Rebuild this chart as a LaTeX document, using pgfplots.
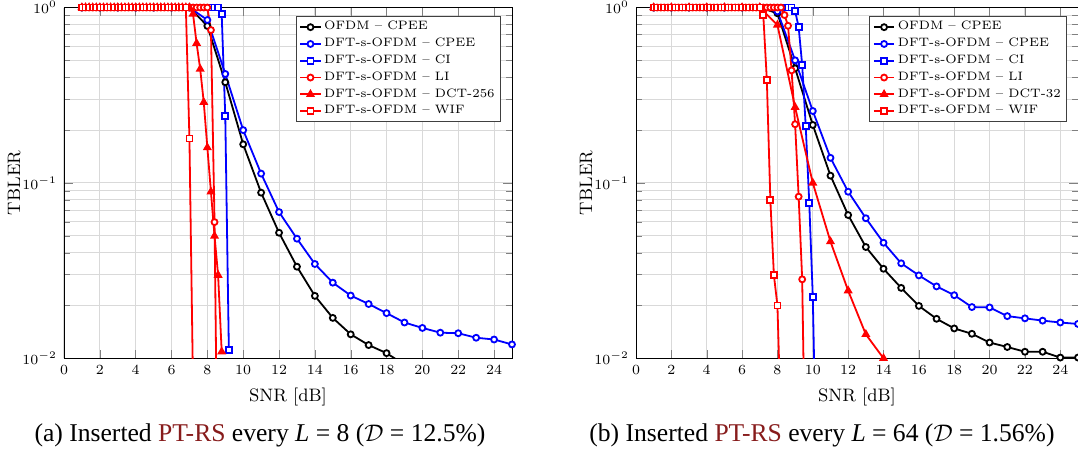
\documentclass[border=0pt]{standalone}
\usepackage{pgfplots}
\pgfplotsset{compat=1.18}
\usepackage{fontspec}
\newfontfamily\capfont{Liberation Serif}
\definecolor{linkred}{RGB}{135,28,28}

\pgfplotsset{
  sOC/.style={black, mark=*, mark options={fill=white}},
  sDC/.style={blue, mark=*, mark options={fill=white}},
  sCI/.style={blue, mark=square*, mark options={fill=white}},
  sLI/.style={red, mark=*, mark options={fill=white}},
  sDCT/.style={red, mark=triangle*, mark options={fill=red}, mark size=1.75pt},
  sWIF/.style={red, mark=square*, mark options={fill=white}},
  tailseg/.style={no marks, forget plot, line width=0.9pt},
}

\begin{document}
\begin{tikzpicture}
% ---------------- (a) L = 8 ----------------
\begin{axis}[
    at={(0pt,0pt)},
    scale only axis,
    width=224pt, height=175.4pt,
    ymode=log,
    xmin=0, xmax=25, ymin=1e-2, ymax=1,
    xtick={0,2,...,24},
    ytick={1e-2,1e-1,1},
    grid=both,
    major grid style={gray!30, line width=0.5pt},
    minor grid style={gray!30, line width=0.5pt},
    tick label style={font=\fontsize{6.7}{8}\selectfont},
    label style={font=\fontsize{9}{10}\selectfont},
    xlabel={SNR [dB]},
    ylabel={TBLER},
    ylabel shift=-6pt,
    legend style={font=\fontsize{6.1}{7}\selectfont, at={(0.975,0.975)}, anchor=north east,
      cells={anchor=west}, draw=black!75, line width=0.5pt,
      inner xsep=1.5pt, inner ysep=1pt, nodes={inner sep=1.3pt}},
    legend image code/.code={\draw[mark repeat=2,mark phase=2]
      plot coordinates {(0cm,0cm) (0.18cm,0cm) (0.36cm,0cm)};},
    every axis plot/.append style={line width=0.9pt, mark size=1.5pt},
]
\addplot[tailseg, black] coordinates {(18,0.0107) (19,0.0092)};
\addplot[tailseg, red] coordinates {(8.4,0.0598) (8.6,0.001)};
\addplot[tailseg, red] coordinates {(7.0,0.179) (7.2,0.007)};

\addplot[sOC] coordinates {
(1,1) (2,1) (3,1) (4,1) (5,1) (6,1) (7,1) (8,0.785) (9,0.375) (10,0.166)
(11,0.088) (12,0.052) (13,0.0333) (14,0.0227) (15,0.0170) (16,0.0137)
(17,0.0119) (18,0.0107)};
\addlegendentry{OFDM -- CPEE}
\addplot[sDC] coordinates {
(1,1) (2,1) (3,1) (4,1) (5,1) (6,1) (7,1) (8,0.849) (9,0.418) (10,0.200)
(11,0.113) (12,0.0682) (13,0.0481) (14,0.0345) (15,0.0270) (16,0.0228)
(17,0.0204) (18,0.0181) (19,0.0160) (20,0.0149) (21,0.0140) (22,0.0139)
(23,0.0131) (24,0.0128) (25,0.0120)};
\addlegendentry{DFT-s-OFDM -- CPEE}
\addplot[sCI] coordinates {
(1,1) (1.2,1) (1.4,1) (1.6,1) (1.8,1) (2,1) (2.2,1) (2.4,1) (2.6,1) (2.8,1)
(3,1) (3.2,1) (3.4,1) (3.6,1) (3.8,1) (4,1) (4.2,1) (4.4,1) (4.6,1) (4.8,1)
(5,1) (5.2,1) (5.4,1) (5.6,1) (5.8,1) (6,1) (6.2,1) (6.4,1) (6.6,1) (6.8,1)
(7,1) (7.2,1) (7.4,1) (7.6,1) (7.8,1) (8,1) (8.2,1) (8.4,1) (8.6,1)
(8.8,0.914) (9.0,0.240) (9.2,0.0111)};
\addlegendentry{DFT-s-OFDM -- CI}
\addplot[sLI] coordinates {
(1,1) (1.2,1) (1.4,1) (1.6,1) (1.8,1) (2,1) (2.2,1) (2.4,1) (2.6,1) (2.8,1)
(3,1) (3.2,1) (3.4,1) (3.6,1) (3.8,1) (4,1) (4.2,1) (4.4,1) (4.6,1) (4.8,1)
(5,1) (5.2,1) (5.4,1) (5.6,1) (5.8,1) (6,1) (6.2,1) (6.4,1) (6.6,1) (6.8,1)
(7,1) (7.2,1) (7.4,1) (7.6,1) (7.8,1) (8,1) (8.2,0.744) (8.4,0.0598)};
\addlegendentry{DFT-s-OFDM -- LI}
\addplot[sDCT] coordinates {
(1,1) (1.2,1) (1.4,1) (1.6,1) (1.8,1) (2,1) (2.2,1) (2.4,1) (2.6,1) (2.8,1)
(3,1) (3.2,1) (3.4,1) (3.6,1) (3.8,1) (4,1) (4.2,1) (4.4,1) (4.6,1) (4.8,1)
(5,1) (5.2,1) (5.4,1) (5.6,1) (5.8,1) (6,1) (6.2,1) (6.4,1) (6.6,1) (6.8,1)
(7,1) (7.2,0.918) (7.4,0.625) (7.6,0.446) (7.8,0.288) (8,0.159) (8.2,0.089)
(8.4,0.0498) (8.6,0.0298) (8.8,0.0109)};
\addlegendentry{DFT-s-OFDM -- DCT-256}
\addplot[sWIF] coordinates {
(1,1) (1.2,1) (1.4,1) (1.6,1) (1.8,1) (2,1) (2.2,1) (2.4,1) (2.6,1) (2.8,1)
(3,1) (3.2,1) (3.4,1) (3.6,1) (3.8,1) (4,1) (4.2,1) (4.4,1) (4.6,1) (4.8,1)
(5,1) (5.2,1) (5.4,1) (5.6,1) (5.8,1) (6,1) (6.2,1) (6.4,1) (6.6,1) (6.8,1)
(7,0.179)};
\addlegendentry{DFT-s-OFDM -- WIF}
\end{axis}

% ---------------- (b) L = 64 ----------------
\begin{axis}[
    at={(286pt,0pt)},
    scale only axis,
    width=221pt, height=175.4pt,
    ymode=log,
    xmin=0, xmax=25, ymin=1e-2, ymax=1,
    xtick={0,2,...,24},
    ytick={1e-2,1e-1,1},
    grid=both,
    major grid style={gray!30, line width=0.5pt},
    minor grid style={gray!30, line width=0.5pt},
    tick label style={font=\fontsize{6.7}{8}\selectfont},
    label style={font=\fontsize{9}{10}\selectfont},
    xlabel={SNR [dB]},
    ylabel={TBLER},
    ylabel shift=-6pt,
    legend style={font=\fontsize{6.1}{7}\selectfont, at={(0.975,0.975)}, anchor=north east,
      cells={anchor=west}, draw=black!75, line width=0.5pt,
      inner xsep=1.5pt, inner ysep=1pt, nodes={inner sep=1.3pt}},
    legend image code/.code={\draw[mark repeat=2,mark phase=2]
      plot coordinates {(0cm,0cm) (0.18cm,0cm) (0.36cm,0cm)};},
    every axis plot/.append style={line width=0.9pt, mark size=1.5pt},
]
\addplot[tailseg, blue] coordinates {(10.0,0.0224) (10.2,0.0022)};
\addplot[tailseg, red] coordinates {(9.4,0.0282) (9.6,0.0015)};
\addplot[tailseg, red] coordinates {(8.0,0.0200) (8.2,0.004)};

\addplot[sOC] coordinates {
(1,1) (2,1) (3,1) (4,1) (5,1) (6,1) (7,1) (8,0.927) (9,0.45) (10,0.214)
(11,0.110) (12,0.0656) (13,0.0431) (14,0.0324) (15,0.0252) (16,0.0199)
(17,0.0168) (18,0.0148) (19,0.0138) (20,0.0123) (21,0.0116) (22,0.0109)
(23,0.0109) (24,0.0101) (25,0.0101)};
\addlegendentry{OFDM -- CPEE}
\addplot[sDC] coordinates {
(1,1) (2,1) (3,1) (4,1) (5,1) (6,1) (7,1) (8,0.95) (9,0.50) (10,0.257)
(11,0.139) (12,0.0891) (13,0.0629) (14,0.0456) (15,0.0348) (16,0.0297)
(17,0.0257) (18,0.0229) (19,0.0196) (20,0.0195) (21,0.0174) (22,0.0169)
(23,0.0164) (24,0.0160) (25,0.0157)};
\addlegendentry{DFT-s-OFDM -- CPEE}
\addplot[sCI] coordinates {
(1,1) (1.2,1) (1.4,1) (1.6,1) (1.8,1) (2,1) (2.2,1) (2.4,1) (2.6,1) (2.8,1)
(3,1) (3.2,1) (3.4,1) (3.6,1) (3.8,1) (4,1) (4.2,1) (4.4,1) (4.6,1) (4.8,1)
(5,1) (5.2,1) (5.4,1) (5.6,1) (5.8,1) (6,1) (6.2,1) (6.4,1) (6.6,1) (6.8,1)
(7,1) (7.2,1) (7.4,1) (7.6,1) (7.8,1) (8,1) (8.2,1) (8.4,1) (8.6,1) (8.8,1)
(9.0,0.955) (9.2,0.774) (9.4,0.470) (9.6,0.211) (9.8,0.0771) (10.0,0.0224)};
\addlegendentry{DFT-s-OFDM -- CI}
\addplot[sLI] coordinates {
(1,1) (1.2,1) (1.4,1) (1.6,1) (1.8,1) (2,1) (2.2,1) (2.4,1) (2.6,1) (2.8,1)
(3,1) (3.2,1) (3.4,1) (3.6,1) (3.8,1) (4,1) (4.2,1) (4.4,1) (4.6,1) (4.8,1)
(5,1) (5.2,1) (5.4,1) (5.6,1) (5.8,1) (6,1) (6.2,1) (6.4,1) (6.6,1) (6.8,1)
(7,1) (7.2,1) (7.4,1) (7.6,1) (7.8,1) (8,1) (8.2,1)
(8.4,0.906) (8.6,0.787) (8.8,0.438) (9.0,0.216) (9.2,0.0835) (9.4,0.0282)};
\addlegendentry{DFT-s-OFDM -- LI}
\addplot[sDCT] coordinates {
(1,1) (2,1) (3,1) (4,1) (5,1) (6,1) (7,1) (8,0.795) (9,0.270) (10,0.100)
(11,0.0463) (12,0.0243) (13,0.0137) (14,0.0100)};
\addlegendentry{DFT-s-OFDM -- DCT-32}
\addplot[sWIF] coordinates {
(1,1) (1.2,1) (1.4,1) (1.6,1) (1.8,1) (2,1) (2.2,1) (2.4,1) (2.6,1) (2.8,1)
(3,1) (3.2,1) (3.4,1) (3.6,1) (3.8,1) (4,1) (4.2,1) (4.4,1) (4.6,1) (4.8,1)
(5,1) (5.2,1) (5.4,1) (5.6,1) (5.8,1) (6,1) (6.2,1) (6.4,1) (6.6,1) (6.8,1)
(7,1) (7.2,0.906) (7.4,0.388) (7.6,0.0796) (7.8,0.0298) (8.0,0.0200)};
\addlegendentry{DFT-s-OFDM -- WIF}
\end{axis}

\node[font=\capfont\fontsize{12.8}{15}\selectfont] at (98pt,-38.5pt)
  {(a) Inserted \textcolor{linkred}{PT-RS} every \textit{L} = 8 ($\mathcal{D}$ = 12.5\%)};
\node[font=\capfont\fontsize{12.8}{15}\selectfont] at (379pt,-38.5pt)
  {(b) Inserted \textcolor{linkred}{PT-RS} every \textit{L} = 64 ($\mathcal{D}$ = 1.56\%)};

\pgfresetboundingbox
\path[use as bounding box] (-32pt,-49.35pt) rectangle (507pt,179.15pt);
\end{tikzpicture}
\end{document}
